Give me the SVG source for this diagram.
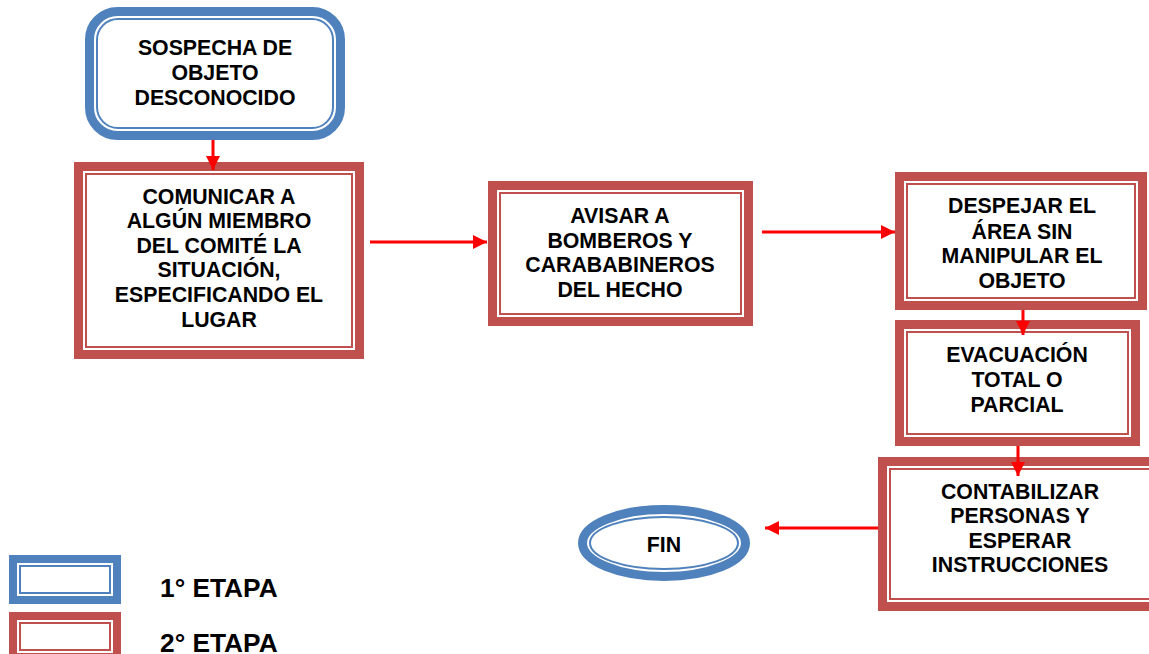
<svg xmlns="http://www.w3.org/2000/svg" width="1149" height="654" viewBox="0 0 1149 654">
<defs>
<style>
.t{font-family:"Liberation Sans",Arial,sans-serif;font-weight:bold;font-size:21.3px;fill:#000;text-anchor:middle}
.lg{font-family:"Liberation Sans",Arial,sans-serif;font-weight:bold;font-size:26.3px;fill:#000}
.rO{fill:#fff;stroke:#C0504D;stroke-width:9}
.rI{fill:none;stroke:#C0504D;stroke-width:2}
.bO{fill:#fff;stroke:#4F81BD;stroke-width:9}
.bI{fill:none;stroke:#4F81BD;stroke-width:2}
.c{stroke:#FF0000;stroke-width:3;fill:none}
</style>
<marker id="ah" markerUnits="userSpaceOnUse" markerWidth="16" markerHeight="16" refX="14" refY="7" orient="auto">
<path d="M0,0 L14,7 L0,14 Z" fill="#FF0000"/>
</marker>
</defs>
<rect width="1149" height="654" fill="#fff"/>

<g id="n1">
<rect class="bO" x="89.5" y="11.5" width="251" height="124" rx="28"/>
<rect class="bI" x="97" y="19" width="236" height="109" rx="21"/>
<text class="t" x="215" y="55">SOSPECHA DE</text>
<text class="t" x="215" y="80">OBJETO</text>
<text class="t" x="215" y="105">DESCONOCIDO</text>
</g>

<g id="n2">
<rect class="rO" x="78.5" y="166.5" width="281" height="188"/>
<rect class="rI" x="86" y="174" width="266" height="173"/>
<text class="t" x="219" y="204">COMUNICAR A</text>
<text class="t" x="219" y="228">ALGÚN MIEMBRO</text>
<text class="t" x="219" y="253">DEL COMITÉ LA</text>
<text class="t" x="219" y="277">SITUACIÓN,</text>
<text class="t" x="219" y="302">ESPECIFICANDO EL</text>
<text class="t" x="219" y="327">LUGAR</text>
</g>

<g id="n3">
<rect class="rO" x="492.5" y="185.5" width="256" height="136"/>
<rect class="rI" x="500" y="193" width="241" height="121"/>
<text class="t" x="620" y="223">AVISAR A</text>
<text class="t" x="620" y="248">BOMBEROS Y</text>
<text class="t" x="620" y="272">CARABABINEROS</text>
<text class="t" x="620" y="297">DEL HECHO</text>
</g>

<g id="n4">
<rect class="rO" x="899.5" y="176.5" width="243" height="129"/>
<rect class="rI" x="907" y="184" width="228" height="114"/>
<text class="t" x="1022" y="213">DESPEJAR EL</text>
<text class="t" x="1022" y="239">ÁREA SIN</text>
<text class="t" x="1022" y="263">MANIPULAR EL</text>
<text class="t" x="1022" y="288">OBJETO</text>
</g>

<g id="n5">
<rect class="rO" x="899.5" y="324.5" width="236" height="117"/>
<rect class="rI" x="907" y="332" width="221" height="102"/>
<text class="t" x="1017" y="362">EVACUACIÓN</text>
<text class="t" x="1017" y="387">TOTAL O</text>
<text class="t" x="1017" y="412">PARCIAL</text>
</g>

<g id="n6">
<rect class="rO" x="882.5" y="461.5" width="280" height="145"/>
<rect class="rI" x="890" y="469" width="265" height="130"/>
<text class="t" x="1020" y="499">CONTABILIZAR</text>
<text class="t" x="1020" y="523">PERSONAS Y</text>
<text class="t" x="1020" y="548">ESPERAR</text>
<text class="t" x="1020" y="572">INSTRUCCIONES</text>
</g>

<g id="fin">
<ellipse class="bO" cx="664" cy="543" rx="81.5" ry="33.5"/>
<ellipse class="bI" cx="664" cy="543" rx="74" ry="26"/>
<text class="t" x="664" y="552">FIN</text>
</g>

<g id="legend">
<rect class="bO" x="13" y="559" width="104" height="41" style="stroke-width:8"/>
<rect class="bI" x="20" y="566" width="90" height="27"/>
<text class="lg" x="160" y="597">1° ETAPA</text>
<rect class="rO" x="13" y="616" width="104" height="41" style="stroke-width:8"/>
<rect class="rI" x="20" y="623" width="90" height="27"/>
<text class="lg" x="160" y="652">2° ETAPA</text>
</g>

<g id="connectors">
<line class="c" x1="213" y1="140" x2="213" y2="170" marker-end="url(#ah)"/>
<line class="c" x1="370" y1="242" x2="487" y2="242" marker-end="url(#ah)"/>
<line class="c" x1="762" y1="232" x2="895" y2="232" marker-end="url(#ah)"/>
<line class="c" x1="1023" y1="310" x2="1023" y2="335" marker-end="url(#ah)"/>
<line class="c" x1="1018" y1="446" x2="1018" y2="476" marker-end="url(#ah)"/>
<line class="c" x1="878" y1="528" x2="765" y2="528" marker-end="url(#ah)"/>
</g>
</svg>
